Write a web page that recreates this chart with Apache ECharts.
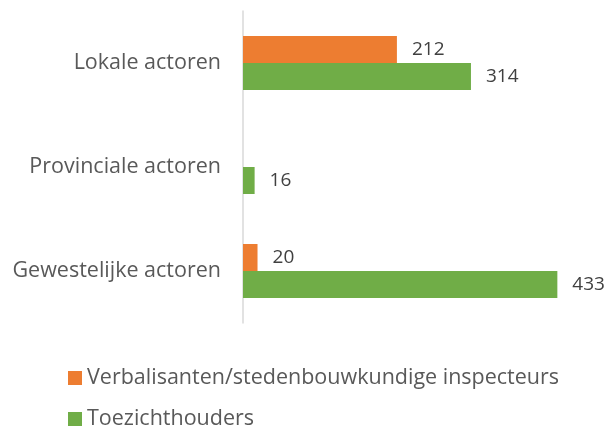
<!DOCTYPE html>
<html>
<head>
<meta charset="utf-8">
<script src="https://cdn.jsdelivr.net/npm/echarts@6/dist/echarts.min.js"></script>
<style>
  html, body { margin: 0; padding: 0; background: #ffffff; }
  #chart { width: 611px; height: 428px; }
</style>
</head>
<body>
<div id="chart"></div>
<script>
// Categories listed bottom-to-top (category axis on y runs upward)
const categories = ['Gewestelijke actoren', 'Provinciale actoren', 'Lokale actoren'];
const seriesNames = ['Verbalisanten/stedenbouwkundige inspecteurs', 'Toezichthouders'];
const verbalisanten = [20, null, 212];
const toezichthouders = [433, 16, 314];

const FONT = '"Open Sans", sans-serif';
const TEXT = '#595959';

const chart = echarts.init(document.getElementById('chart'), null, { renderer: 'canvas' });

const labelStyle = {
  show: true,
  position: 'right',
  distance: 15,
  color: '#404040',
  fontFamily: FONT,
  fontSize: 19
};

// One legend block per series, stacked below the plot
const legendBlock = (name, top) => ({
  left: 63,
  top: top,
  itemWidth: 14,
  itemHeight: 14,
  icon: 'rect',
  textStyle: { color: TEXT, fontFamily: FONT, fontSize: 21.5, padding: [0, 0, 0, 0] },
  data: [name]
});

chart.setOption({
  animation: false,
  grid: { left: 243, right: 5, top: 11, height: 312 },
  xAxis: {
    type: 'value',
    min: 0,
    max: 500,
    show: false
  },
  yAxis: {
    type: 'category',
    data: categories,
    axisLine: { show: true, lineStyle: { color: '#d9d9d9', width: 1.5 } },
    axisTick: { show: false },
    axisLabel: { color: TEXT, fontFamily: FONT, fontSize: 21.5, margin: 22 }
  },
  legend: [
    legendBlock(seriesNames[0], 362),
    legendBlock(seriesNames[1], 403)
  ],
  series: [
    {
      name: seriesNames[0],
      type: 'bar',
      data: verbalisanten,
      barWidth: 27,
      barGap: '0%',
      itemStyle: { color: '#ed7d31' },
      label: labelStyle
    },
    {
      name: seriesNames[1],
      type: 'bar',
      data: toezichthouders,
      barWidth: 27,
      barGap: '0%',
      itemStyle: { color: '#70ad47' },
      label: labelStyle
    }
  ]
});
</script>
</body>
</html>
